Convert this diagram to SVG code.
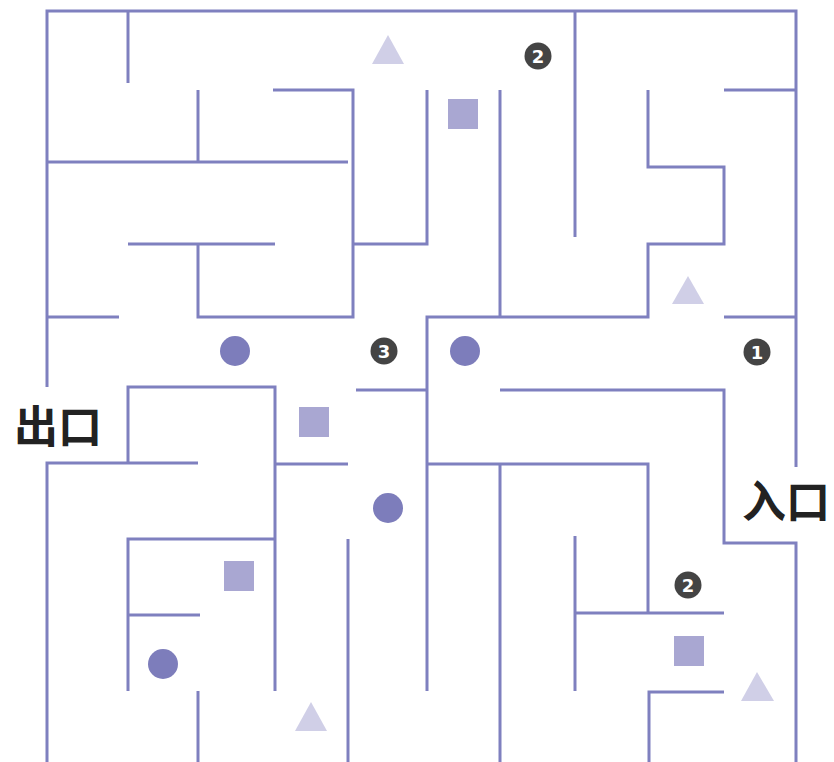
<svg xmlns="http://www.w3.org/2000/svg" width="834" height="762" viewBox="0 0 834 762">
<style>
.w{fill:none;stroke:#7f80bf;stroke-width:3;stroke-linecap:butt;stroke-linejoin:miter}
.tri{fill:#d0cfe7}
.sq{fill:#a9a7d2}
.dot{fill:#7d7dbb}
.bd{fill:#444444}
.bt{fill:#ffffff;font-family:"DejaVu Sans","Liberation Sans",sans-serif;font-weight:bold;font-size:18px;text-anchor:middle}
.lbl{fill:#222222;font-family:"Noto Sans CJK SC","Noto Sans CJK JP",sans-serif;font-weight:bold;font-size:44px}
</style>
<rect width="834" height="762" fill="#ffffff"/>
<g id="walls">
<path class="w" d="M47,387 V11 H796 V467"/>
<path class="w" d="M198,463 H47 V762"/>
<path class="w" d="M500,390 H724 V543 H796 V762"/>
<path class="w" d="M128,11 V83"/>
<path class="w" d="M198,90 V162"/>
<path class="w" d="M47,162 H348"/>
<path class="w" d="M273,90 H353 V317 H198 V244"/>
<path class="w" d="M128,244 H275"/>
<path class="w" d="M353,244 H427 V90"/>
<path class="w" d="M500,90 V317"/>
<path class="w" d="M427,691 V317 H648 V244 H724 V167 H648 V90"/>
<path class="w" d="M575,11 V237"/>
<path class="w" d="M724,90 H796"/>
<path class="w" d="M724,317 H796"/>
<path class="w" d="M47,317 H119"/>
<path class="w" d="M128,463 V387 H275 V691"/>
<path class="w" d="M275,464 H348"/>
<path class="w" d="M356,390 H427"/>
<path class="w" d="M427,464 H648 V613"/>
<path class="w" d="M575,613 H724"/>
<path class="w" d="M575,536 V691"/>
<path class="w" d="M500,464 V762"/>
<path class="w" d="M649,762 V692 H724"/>
<path class="w" d="M128,691 V539 H275"/>
<path class="w" d="M128,615 H200"/>
<path class="w" d="M198,691 V762"/>
<path class="w" d="M348,539 V762"/>
</g>
<g id="triangles">
<polygon class="tri" points="388,35 372,64 404,64"/>
<polygon class="tri" points="688,276 672,304 704,304"/>
<polygon class="tri" points="757,672 741,701 774,701"/>
<polygon class="tri" points="311,702 295,731 327,731"/>
</g>
<g id="squares">
<rect class="sq" x="448" y="99" width="30" height="30"/>
<rect class="sq" x="299" y="407" width="30" height="30"/>
<rect class="sq" x="224" y="561" width="30" height="30"/>
<rect class="sq" x="674" y="636" width="30" height="30"/>
</g>
<g id="circles">
<circle class="dot" cx="235" cy="351" r="15"/>
<circle class="dot" cx="465" cy="351" r="15"/>
<circle class="dot" cx="388" cy="508" r="15"/>
<circle class="dot" cx="163" cy="664" r="15"/>
</g>
<g id="badge-2-top"><circle class="bd" cx="538" cy="56" r="13.5"/><text class="bt" x="538" y="62.5">2</text></g>
<g id="badge-3"><circle class="bd" cx="384" cy="351" r="13.5"/><text class="bt" x="384" y="357.5">3</text></g>
<g id="badge-1"><circle class="bd" cx="757" cy="352" r="13.5"/><text class="bt" x="757" y="358.5">1</text></g>
<g id="badge-2-bottom"><circle class="bd" cx="688" cy="585" r="13.5"/><text class="bt" x="688" y="591.5">2</text></g>
<g id="exit"><text class="lbl" x="14" y="443">出口</text></g>
<g id="entrance"><text class="lbl" x="742" y="518">入口</text></g>
</svg>
